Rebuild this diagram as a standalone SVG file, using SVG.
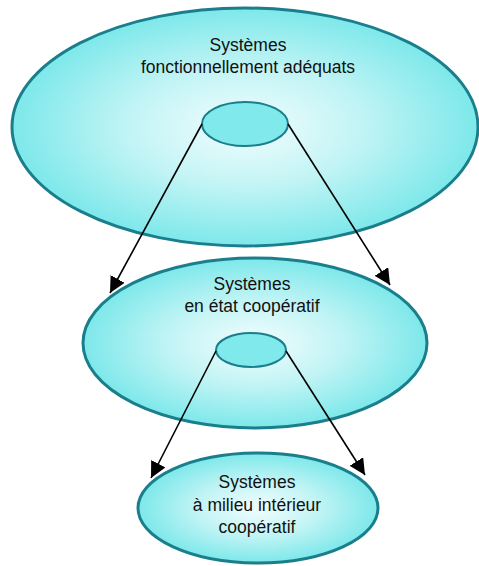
<svg xmlns="http://www.w3.org/2000/svg" width="479" height="566" viewBox="0 0 479 566">
<defs>
<radialGradient id="g" cx="50%" cy="50%" r="50%">
<stop offset="0" stop-color="#f2fdfe"/>
<stop offset="0.5" stop-color="#c2f4f5"/>
<stop offset="1" stop-color="#7de8ea"/>
</radialGradient>
<marker id="ah" viewBox="0 0 10 10" refX="10" refY="5" markerWidth="16" markerHeight="16" markerUnits="userSpaceOnUse" orient="auto">
<path d="M0,0 L10,5 L0,10 z" fill="#000"/>
</marker>
<style>
.big{fill:url(#g);stroke:#1a7e8c;stroke-width:3}
.small{fill:#80e9eb;stroke:#1a7e8c;stroke-width:2}
.t{font-family:"Liberation Sans",Arial,sans-serif;font-size:17.5px;fill:#111;text-anchor:middle}
.c{stroke:#000;stroke-width:1.6;fill:none;marker-end:url(#ah)}
</style>
</defs>
<g id="n1">
<ellipse class="big" cx="245" cy="127" rx="233" ry="119"/>
<ellipse class="small" cx="245" cy="124" rx="43" ry="22"/>
<text class="t" x="248" y="51">Systèmes</text>
<text class="t" x="248" y="73">fonctionnellement adéquats</text>
</g>
<g id="n2">
<ellipse class="big" cx="255" cy="343" rx="172" ry="85"/>
<ellipse class="small" cx="251" cy="350" rx="35" ry="17"/>
<text class="t" x="252" y="290">Systèmes</text>
<text class="t" x="252" y="312">en état coopératif</text>
</g>
<g id="n3">
<ellipse class="big" cx="258" cy="508" rx="120" ry="55"/>
<text class="t" x="257" y="488">Systèmes</text>
<text class="t" x="257" y="511">à milieu intérieur</text>
<text class="t" x="257" y="533">coopératif</text>
</g>
<g id="connectors">
<line class="c" x1="202" y1="124" x2="110" y2="293"/>
<line class="c" x1="288" y1="124" x2="390" y2="285"/>
<line class="c" x1="216" y1="351" x2="151" y2="478"/>
<line class="c" x1="286" y1="351" x2="365" y2="475"/>
</g>
</svg>
